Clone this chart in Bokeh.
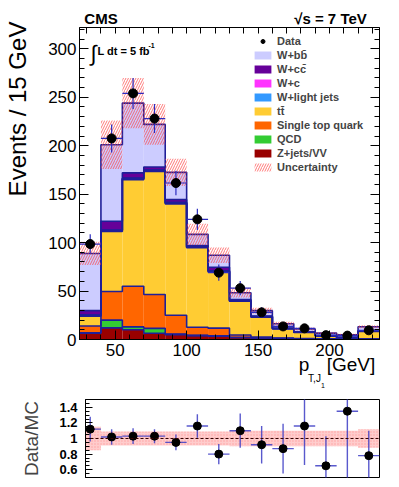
import numpy as np
from bokeh.plotting import figure
from bokeh.models import (Range1d, LinearAxis, SingleIntervalTicker, FixedTicker,
                          CustomJSTickFormatter, Label, Legend, LegendItem, Span, Spacer)
from bokeh.layouts import column, row
from bokeh.embed import file_html
from bokeh.resources import INLINE

# ---------------- data ----------------
bin_low = [25, 40, 55, 70, 85, 100, 115, 130, 145, 160, 175, 190, 205, 220]
bin_high = [40, 55, 70, 85, 100, 115, 130, 145, 160, 175, 190, 205, 220, 235]
bin_center = [32.5, 47.5, 62.5, 77.5, 92.5, 107.5, 122.5, 137.5, 152.5, 167.5, 182.5, 197.5, 212.5, 227.5]

zjets_vv = [6.5, 12, 10, 6.5, 5, 4, 3.5, 2, 1.5, 1, 0.7, 0.5, 0.3, 0.5]
qcd = [0.5, 8, 3, 5, 0.5, 0.3, 0.2, 0.1, 0.1, 0, 0, 0, 0, 0]
single_top = [7, 29.5, 42, 35, 19.5, 8.4, 8, 2.5, 1, 0.5, 0.3, 0.2, 0.1, 0.3]
ttbar = [10, 62, 110, 127, 115, 82, 58, 35, 20.5, 9.5, 6.3, 2.8, 1.2, 7.5]
w_light = [1, 1, 1, 1, 1, 0.5, 1, 0.5, 0.5, 0.3, 0.3, 0.3, 0.3, 0.3]
w_c = [0.3, 0.5, 0.5, 0.5, 0.5, 0.3, 0.3, 0.2, 0.2, 0.1, 0.1, 0.1, 0.1, 0.1]
w_cc = [4.5, 9, 5.5, 3, 3, 1.5, 3.5, 1, 0.5, 0.5, 0.3, 0.3, 0.3, 0.4]
w_bb = [59, 79, 72, 44, 28, 11.5, 12.5, 7, 5.5, 4.4, 2.8, 2.4, 2.6, 4]
mc_unc = [12, 25, 26, 21, 14, 11, 8, 5, 3, 2, 1.5, 1, 1, 1.5]

data = [98.5, 207.5, 254, 228, 161.5, 124, 69, 53, 28, 13.5, 11.5, 4.5, 4, 9.5]
data_err = [10, 14.5, 16, 15, 12.7, 11, 8.3, 7.3, 5.3, 3.7, 3.4, 2.1, 2, 3.1]

ratio = [1.12, 1.02, 1.03, 1.03, 0.95, 1.16, 0.80, 1.10, 0.92, 0.87, 1.16, 0.65, 1.35, 0.78]
ratio_err = [0.16, 0.10, 0.10, 0.09, 0.10, 0.15, 0.13, 0.22, 0.24, 0.32, 0.50, 0.38, 0.90, 0.32]
ratio_unc = [0.15, 0.09, 0.09, 0.09, 0.09, 0.09, 0.09, 0.10, 0.10, 0.10, 0.10, 0.10, 0.10, 0.12]

layer_names = ["Z+jets/VV", "QCD", "Single top quark", "t\u0074\u0304", "W+light jets", "W+c",
               "W+c\u0063\u0304", "W+b\u0062\u0304"]
layer_values = [zjets_vv, qcd, single_top, ttbar, w_light, w_c, w_cc, w_bb]
layer_colors = ["#990000", "#33cc33", "#ff6600", "#ffcc33", "#3399ff", "#ff33ff", "#660099", "#ccccff"]

FONT = "Liberation Sans"
OUTLINE = "#1f1f99"

# ---------------- top panel ----------------
XMIN, XMAX, YMAX = 25, 235, 322
FL, FT, FW, FH = 79, 27, 300, 312      # frame position in page pixels
p = figure(width=399, height=391, x_range=Range1d(XMIN, XMAX), y_range=Range1d(0, YMAX),
           output_backend="svg", toolbar_location=None,
           min_border_left=FL, min_border_right=399 - FL - FW, min_border_top=FT,
           min_border_bottom=391 - FT - FH)
p.xgrid.visible = False
p.ygrid.visible = False
p.outline_line_color = "black"
p.outline_line_alpha = 1.0


def px2x(px):
    return XMIN + (px - FL) * (XMAX - XMIN) / FW


def py2y(py):
    return (FT + FH - py) * YMAX / FH


def style_axis(ax, ticker, labels=True, size="17px", bold=False):
    ax.ticker = ticker
    ax.major_tick_in = 9
    ax.major_tick_out = 0
    ax.minor_tick_in = 5
    ax.minor_tick_out = 0
    ax.axis_line_color = "black"
    ax.major_tick_line_color = "black"
    ax.minor_tick_line_color = "black"
    ax.major_label_text_font = FONT
    ax.major_label_text_font_size = size
    ax.major_label_text_color = "black"
    if bold:
        ax.major_label_text_font_style = "bold"
    if not labels:
        ax.formatter = CustomJSTickFormatter(code="return '';")


def text_axis(fig, place, ticks, texts, size, style="normal", standoff=0, parallel=False,
              minor=None, minor_in=0):
    ax = LinearAxis(ticker=FixedTicker(ticks=ticks, minor_ticks=minor or []),
                    formatter=CustomJSTickFormatter(args=dict(texts=texts),
                                                    code="return texts[index];"))
    ax.major_tick_in = 0
    ax.major_tick_out = 0
    ax.minor_tick_in = minor_in
    ax.minor_tick_out = 0
    ax.minor_tick_line_color = "black"
    ax.axis_line_color = None
    ax.major_label_text_font = FONT
    ax.major_label_text_font_size = size
    ax.major_label_text_font_style = style
    ax.major_label_text_color = "black"
    ax.major_label_standoff = standoff
    if parallel:
        ax.major_label_orientation = "parallel"
    fig.add_layout(ax, place)
    return ax


style_axis(p.xaxis[0], SingleIntervalTicker(interval=50, num_minor_ticks=5))
p.xaxis[0].major_label_standoff = 4
style_axis(p.yaxis[0], SingleIntervalTicker(interval=50, num_minor_ticks=5))
p.yaxis[0].major_label_standoff = 3

ax_r = LinearAxis()
style_axis(ax_r, SingleIntervalTicker(interval=50, num_minor_ticks=5), labels=False)
p.add_layout(ax_r, "right")

# top axis: inward ticks every 10 GeV plus the CMS / sqrt(s) header texts
top_ticks_minor = [30, 40, 50, 60, 70, 80, 90, 100, 110, 120, 130, 140, 150, 160, 170, 180,
                   190, 200, 210, 220, 230]
text_axis(p, "above", [px2x(100.5), px2x(330)], ["CMS", "\u221As = 7 TeV"], "15px",
          "bold", standoff=1, minor=top_ticks_minor, minor_in=6)

# y-axis title, rotated, kept near the top of the axis
text_axis(p, "left", [py2y(108.5)], ["Events / 15 GeV"], "24px", standoff=15, parallel=True)

# x-axis title  p_{T,J_1} [GeV]
text_axis(p, "below", [px2x(303.5), px2x(350.5)], ["p", "[GeV]"], "19px", standoff=-5)
text_axis(p, "below", [px2x(314)], ["T,J"], "10px", standoff=-5)
text_axis(p, "below", [px2x(322.5)], ["1"], "7px", standoff=-4)

# stacked histograms
cum = np.zeros(len(bin_low))
tops = []
stack_renderers = []
for vals, color in zip(layer_values, layer_colors):
    bottom = cum.copy()
    top = cum + np.array(vals, dtype=float)
    rq = p.quad(left=bin_low, right=bin_high, bottom=bottom, top=top,
                fill_color=color, line_color=None)
    stack_renderers.append(rq)
    tops.append(top)
    cum = top

step_x = bin_low + [bin_high[-1]]
for top in tops:
    p.step(x=step_x, y=list(top) + [top[-1]], mode="after", line_color=OUTLINE,
           line_width=1.6)

total = cum
r_unc = p.quad(left=bin_low, right=bin_high, bottom=total - np.array(mc_unc),
               top=total + np.array(mc_unc), fill_alpha=0, line_color=None, hatch_pattern="/",
               hatch_color="#ff4040", hatch_alpha=0.7, hatch_scale=5, hatch_weight=1)

# data
d = np.array(data)
de = np.array(data_err)
p.segment(x0=bin_center, y0=d - de, x1=bin_center, y1=d + de, line_color="#2b2bbf", line_width=1.2)
p.segment(x0=bin_low, y0=d, x1=bin_high, y1=d, line_color="#2b2bbf", line_width=1.2)
r_data = p.scatter(x=bin_center, y=data, size=9, fill_color="black", line_color="black")

# legend
items = [LegendItem(label="Data", renderers=[r_data])]
for name, rq in reversed(list(zip(layer_names, stack_renderers))):
    items.append(LegendItem(label=name, renderers=[rq]))
items.append(LegendItem(label="Uncertainty", renderers=[r_unc]))

legend = Legend(items=items, location=(173, 165), padding=0, margin=0, spacing=0,
                glyph_width=21, glyph_height=10, label_height=14, label_standoff=4,
                label_text_font=FONT, label_text_font_size="11px", label_text_font_style="bold",
                background_fill_alpha=0, border_line_alpha=0)
p.add_layout(legend, "center")


def add_label(fig, px, py, text, size, style="normal", align="left", baseline="middle"):
    fig.add_layout(Label(x=px2x(px), y=py2y(py), text=text, text_font=FONT,
                         text_font_size=size, text_font_style=style, text_align=align,
                         text_baseline=baseline, text_color="black"))


add_label(p, 90, 53, "\u222B", "22px")
add_label(p, 97, 50, "L dt = 5 fb", "11px", "bold")
add_label(p, 148, 45, "-1", "7px", "bold")

# ---------------- ratio panel ----------------
# The ratio frame starts 6 px further right than the main frame; a spacer keeps the
# two figures' left borders equal so the layout does not realign the main frame.
SHIFT = 6
RL, RT, RW, RH = 79, 8, 294, 78
RWIDTH = 399 - SHIFT
r = figure(width=RWIDTH, height=94, x_range=Range1d(29.2, 235), y_range=Range1d(0.5, 1.5),
           output_backend="svg", toolbar_location=None, x_axis_type=None,
           min_border_left=RL, min_border_right=RWIDTH - RL - RW, min_border_top=RT,
           min_border_bottom=94 - RT - RH)
r.xgrid.visible = False
r.ygrid.visible = False
r.outline_line_color = "black"
r.outline_line_alpha = 1.0
style_axis(r.yaxis[0], FixedTicker(ticks=[0.6, 0.8, 1.0, 1.2, 1.4],
                                   minor_ticks=list(np.round(np.arange(0.5, 1.51, 0.05), 2))),
           size="13px", bold=True)
r.yaxis[0].major_tick_in = 7
r.yaxis[0].minor_tick_in = 4
r.yaxis[0].formatter = CustomJSTickFormatter(code="return String(Math.round(tick*10)/10);")
r.yaxis[0].major_label_standoff = 8
r.yaxis[0].axis_label = "Data/MC"
r.yaxis[0].axis_label_text_font = FONT
r.yaxis[0].axis_label_text_font_size = "19px"
r.yaxis[0].axis_label_text_font_style = "normal"
r.yaxis[0].axis_label_standoff = 14

ru = np.array(ratio_unc)
r.quad(left=bin_low, right=bin_high, bottom=1 - ru, top=1 + ru, fill_color="#ff8f8f",
       fill_alpha=0.45, line_color=None, hatch_pattern=".", hatch_color="#ff6060",
       hatch_alpha=0.4, hatch_scale=3)
r.add_layout(Span(location=1, dimension="width", line_color="#330000", line_dash="3 2",
                  line_width=1))
ra = np.array(ratio)
rae = np.array(ratio_err)
r.segment(x0=bin_center, y0=ra - rae, x1=bin_center, y1=ra + rae, line_color="#3c3cc4",
          line_alpha=0.85, line_width=1.4)
r.segment(x0=bin_low, y0=ra, x1=bin_high, y1=ra, line_color="#3c3cc4", line_alpha=0.85,
          line_width=1.4)
r.scatter(x=bin_center, y=ratio, size=8, fill_color="black", line_color="black")

layout = column(p, row(Spacer(width=SHIFT, height=94), r, spacing=0), spacing=0)
open("out.html", "w").write(file_html(layout, INLINE))
